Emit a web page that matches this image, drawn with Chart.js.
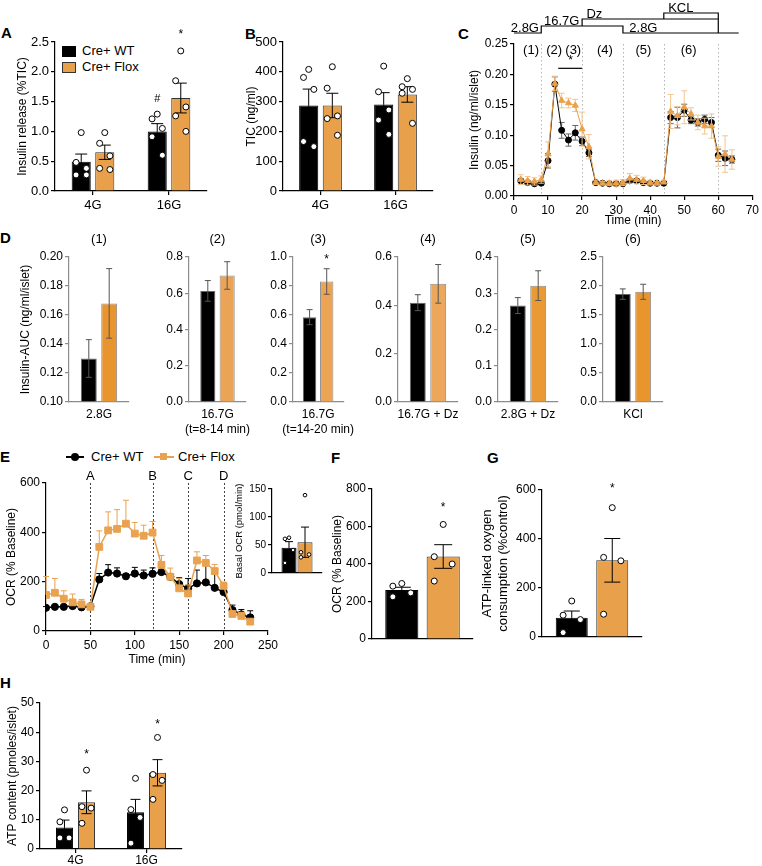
<!DOCTYPE html>
<html>
<head>
<meta charset="utf-8">
<title>Insulin secretion and OCR figure</title>
<script src="https://cdn.jsdelivr.net/npm/chart.js@4.4.1/dist/chart.umd.min.js"></script>
<style>
  body { margin: 0; background: #fff; }
  #fig { position: relative; width: 762px; height: 866px; overflow: hidden; background: #fff;
         font-family: "Liberation Sans", Arial, Helvetica, sans-serif; color: #000; }
  #fig canvas { position: absolute; }
  .txt { position: absolute; white-space: nowrap; font-size: 13px; line-height: 16px; }
  .letter { font-size: 15px; font-weight: bold; }
  .mid { transform: translateX(-50%); }
  .box { position: absolute; }
</style>
</head>
<body>
<div id="fig">
  <div class="txt letter" style="left:1px;top:25px">A</div>
  <div class="txt letter" style="left:245px;top:26px">B</div>
  <div class="txt letter" style="left:458px;top:26px">C</div>
  <div class="txt letter" style="left:0px;top:230px">D</div>
  <div class="txt letter" style="left:0px;top:449px">E</div>
  <div class="txt letter" style="left:331px;top:450px">F</div>
  <div class="txt letter" style="left:487px;top:450px">G</div>
  <div class="txt letter" style="left:0px;top:675px">H</div>

  <!-- legend of A -->
  <div class="box" style="left:62px;top:46px;width:14px;height:11px;background:#000"></div>
  <div class="box" style="left:62px;top:62px;width:12px;height:9px;background:#E9A04B;border:1px solid #333"></div>
  <div class="txt" style="left:82px;top:43px">Cre+ WT</div>
  <div class="txt" style="left:82px;top:59px">Cre+ Flox</div>

  <!-- legend of E -->
  <div class="box" style="left:66px;top:456px;width:18px;height:2px;background:#000"></div>
  <div class="box" style="left:71px;top:453px;width:8px;height:8px;border-radius:50%;background:#000"></div>
  <div class="txt" style="left:91px;top:449px">Cre+ WT</div>
  <div class="box" style="left:154px;top:456px;width:20px;height:2px;background:#E9A24F"></div>
  <div class="box" style="left:160px;top:453px;width:7px;height:7px;background:#E9A24F"></div>
  <div class="txt" style="left:178px;top:449px">Cre+ Flox</div>
</div>

<script>
// ---------------- data ----------------

// A: insulin release (%TIC)
const glucose = ['4G', '16G'];
const releaseWt = [0.49, 1.00];
const releaseWtSem = [0.13, 0.13];
const releaseFlox = [0.65, 1.56];
const releaseFloxSem = [0.12, 0.25];
const releaseWtDots = [[0.98, 0.48, 0.38, 0.27, 0.27], [1.29, 1.21, 1.05, 0.91, 0.60]];
const releaseFloxDots = [[0.98, 0.80, 0.59, 0.38, 0.36], [2.35, 1.85, 1.41, 1.26, 1.00]];

// B: total insulin content (ng/ml)
const ticWt = [287, 290];
const ticWtSem = [55, 40];
const ticFlox = [287, 324];
const ticFloxSem = [41, 26];
const ticWtDots = [[408, 381, 341, 166, 149], [419, 333, 272, 238, 190]];
const ticFloxDots = [[417, 345, 252, 243, 187], [377, 350, 341, 328, 227]];

// C: perifusion (ng/ml/islet)
const periTime = [2, 4, 6, 8, 10, 12, 14, 16, 18, 20, 22, 24, 26, 28, 30, 32,
                  34, 36, 38, 40, 42, 44, 46, 48, 50, 52, 54, 56, 58, 60, 62, 64];
const periWt = [0.025, 0.022, 0.020, 0.021, 0.058, 0.184, 0.108, 0.092, 0.104, 0.090, 0.071, 0.022, 0.021, 0.020, 0.020, 0.020,
                0.025, 0.025, 0.022, 0.021, 0.021, 0.021, 0.129, 0.129, 0.141, 0.125, 0.121, 0.126, 0.121, 0.067, 0.062, 0.060];
const periWtSem = [0.003, 0.003, 0.002, 0.002, 0.012, 0.012, 0.013, 0.010, 0.012, 0.007, 0.006, 0.002, 0.002, 0.002, 0.002, 0.002,
                   0.003, 0.003, 0.002, 0.002, 0.002, 0.002, 0.010, 0.017, 0.010, 0.006, 0.006, 0.007, 0.008, 0.010, 0.012, 0.006];
const periFlox = [0.027, 0.025, 0.024, 0.027, 0.069, 0.185, 0.157, 0.153, 0.149, 0.110, 0.081, 0.022, 0.021, 0.021, 0.021, 0.022,
                  0.029, 0.027, 0.025, 0.022, 0.021, 0.023, 0.139, 0.132, 0.146, 0.135, 0.121, 0.115, 0.115, 0.065, 0.069, 0.060];
const periFloxSem = [0.008, 0.007, 0.006, 0.006, 0.020, 0.012, 0.012, 0.008, 0.010, 0.028, 0.020, 0.003, 0.003, 0.004, 0.005, 0.005,
                     0.008, 0.007, 0.006, 0.004, 0.003, 0.003, 0.028, 0.015, 0.027, 0.010, 0.012, 0.013, 0.020, 0.016, 0.030, 0.016];
const periWindows = ['(1)', '(2)', '(3)', '(4)', '(5)', '(6)'];
const periBounds = [8, 20, 32, 44, 60];       // dotted lines (min)
const stimHighGlucose = [8, 32];              // 16.7G on/off
const stimDz = [20, 60];
const stimKcl = [44, 60];
const stimEnd = 66;

// D: AUC per window
const aucLabels = ['2.8G', ['16.7G', '(t=8-14 min)'], ['16.7G', '(t=14-20 min)'], '16.7G + Dz', '2.8G + Dz', 'KCl'];
const aucWt = [0.130, 0.613, 0.585, 0.411, 0.266, 1.86];
const aucWtSem = [0.013, 0.057, 0.052, 0.033, 0.022, 0.09];
const aucFlox = [0.168, 0.698, 0.831, 0.489, 0.321, 1.90];
const aucFloxSem = [0.024, 0.076, 0.088, 0.080, 0.041, 0.13];
const aucMin = [0.10, 0, 0, 0, 0, 0];
const aucMax = [0.20, 0.8, 1.0, 0.6, 0.4, 2.5];
const aucStep = [0.02, 0.2, 0.2, 0.2, 0.1, 0.5];
const aucDec = [2, 1, 1, 1, 1, 1];

// E: OCR (% baseline)
const ocrTime = [0, 10, 20, 30, 40, 50, 60, 70, 80, 90, 100, 110, 120, 130, 140, 150, 160, 170, 180, 190, 200, 210, 220, 230];
const ocrWt = [94, 98, 98, 101, 96, 100, 209, 237, 233, 222, 233, 225, 232, 239, 220, 190, 173, 193, 197, 175, 158, 85, 67, 55];
const ocrWtSem = [5, 5, 5, 5, 5, 5, 24, 32, 23, 10, 25, 22, 24, 22, 10, 26, 40, 54, 76, 59, 8, 20, 20, 27];
const ocrFlox = [146, 155, 131, 116, 108, 98, 341, 408, 414, 435, 395, 386, 399, 268, 220, 173, 152, 286, 276, 243, 183, 69, 61, 38];
const ocrFloxSem = [75, 58, 32, 34, 20, 5, 65, 75, 78, 95, 45, 43, 45, 38, 35, 40, 35, 35, 30, 27, 15, 10, 15, 10];
const injections = ['A', 'B', 'C', 'D'];
const injectionTime = [50, 120, 160, 200];

// E inset: basal OCR (pmol/min)
const basalWt = [45];
const basalWtSem = [11];
const basalFlox = [55];
const basalFloxSem = [27];
const basalWtDots = [[63, 61, 41, 18]];
const basalFloxDots = [[139, 37, 33, 28]];

// F: OCR (% baseline)
const ocrBarWt = [261];
const ocrBarWtSem = [15];
const ocrBarFlox = [440];
const ocrBarFloxSem = [63];
const ocrBarWtDots = [[296, 282, 246, 225]];
const ocrBarFloxDots = [[611, 439, 400, 309]];

// G: ATP-linked oxygen consumption (%control)
const atpO2Wt = [79];
const atpO2WtSem = [27];
const atpO2Flox = [313];
const atpO2FloxSem = [89];
const atpO2WtDots = [[147, 89, 71, 18]];
const atpO2FloxDots = [[528, 325, 311, 93]];

// H: ATP content (pmoles/islet)
const atpWt = [7.4, 12.6];
const atpWtSem = [2.5, 4.4];
const atpFlox = [16.0, 26.1];
const atpFloxSem = [3.9, 4.5];
const atpWtDots = [[13.4, 9.3, 3.8, 3.8], [24.2, 13.5, 10.8, 2.0]];
const atpFloxDots = [[27.0, 14.5, 14.0, 8.8], [38.2, 25.5, 23.5, 17.0]];

// ---------------- drawing ----------------

const FONT = '"Liberation Sans", Arial, Helvetica, sans-serif';
const ORANGE = '#E9A04B';
Chart.defaults.font.family = FONT;
Chart.defaults.font.size = 12;
Chart.defaults.color = '#000';
Chart.defaults.animation = false;
Chart.defaults.plugins.legend.display = false;
Chart.defaults.plugins.tooltip.enabled = false;

const fig = document.getElementById('fig');

// canvas placed so that the chart area lands on box l/t/r/b (page pixels)
function addCanvas(box) {
    const c = document.createElement('canvas');
    const left = box.l - box.yw, top = box.t - box.pt;
    c.width = box.r + box.pr - left;
    c.height = box.b + box.xh - top;
    c.style.left = left + 'px';
    c.style.top = top + 'px';
    fig.appendChild(c);
    return c;
}

function drawText(ctx, text, x, y, size, baseline) {
    ctx.save();
    ctx.fillStyle = '#000';
    ctx.font = size + 'px ' + FONT;
    ctx.textAlign = 'center';
    ctx.textBaseline = baseline || 'middle';
    ctx.fillText(text, x, y);
    ctx.restore();
}

function drawErrors(chart, di) {
    const ds = chart.data.datasets[di];
    if (!ds.errUp) return;
    const meta = chart.getDatasetMeta(di);
    const ys = chart.scales[meta.yAxisID];
    const ctx = chart.ctx;
    const h = ds.errCap || 4;
    ctx.save();
    ctx.strokeStyle = ds.errColor || '#000';
    ctx.lineWidth = ds.errWidth || 1;
    meta.data.forEach((el, i) => {
        const v = meta.controller.getParsed(i).y;
        const x = el.x, y0 = ys.getPixelForValue(v);
        ctx.beginPath();
        const yu = ys.getPixelForValue(v + ds.errUp[i]);
        ctx.moveTo(x, y0); ctx.lineTo(x, yu);
        ctx.moveTo(x - h, yu); ctx.lineTo(x + h, yu);
        if (ds.errDown) {
            const yd = ys.getPixelForValue(v - ds.errDown[i]);
            ctx.moveTo(x, y0); ctx.lineTo(x, yd);
            ctx.moveTo(x - h, yd); ctx.lineTo(x + h, yd);
        }
        ctx.stroke();
    });
    ctx.restore();
}

// error bars: under the line for line charts, over the bar for bar charts
Chart.register({
    id: 'errorBars',
    beforeDatasetDraw(chart, args) { if (chart.config.type === 'line') drawErrors(chart, args.index); },
    afterDatasetDraw(chart, args) { if (chart.config.type === 'bar') drawErrors(chart, args.index); }
});

// extra marks: dotted time lines, labels, stimulus diagram, significance marks
function overlay(spec) {
    return {
        id: 'overlay',
        beforeDatasetsDraw(chart) {
            const { ctx, chartArea: a, scales } = chart;
            (spec.vlines || []).forEach(v => {
                ctx.save();
                ctx.strokeStyle = v.color;
                ctx.lineWidth = v.width || 1;
                ctx.setLineDash(v.dash);
                v.xs.forEach(x => {
                    const px = Math.round(scales.x.getPixelForValue(x)) + 0.5;
                    ctx.beginPath(); ctx.moveTo(px, a.top); ctx.lineTo(px, a.bottom); ctx.stroke();
                });
                ctx.restore();
            });
        },
        afterDatasetsDraw(chart) {
            const { ctx, scales } = chart;
            ctx.save();
            ctx.strokeStyle = '#000';
            ctx.lineWidth = 1.2;
            (spec.paths || []).forEach(p => {
                ctx.beginPath();
                p.forEach(([x, y], i) => {
                    const px = scales.x.getPixelForValue(x);
                    if (i === 0) ctx.moveTo(px, y); else ctx.lineTo(px, y);
                });
                ctx.stroke();
            });
            (spec.segs || []).forEach(s => {
                const y = scales.y.getPixelForValue(s.y);
                ctx.beginPath();
                ctx.moveTo(scales.x.getPixelForValue(s.x1), y);
                ctx.lineTo(scales.x.getPixelForValue(s.x2), y);
                ctx.stroke();
            });
            ctx.restore();
            (spec.texts || []).forEach(t => {
                const y = t.yPx !== undefined ? t.yPx : scales.y.getPixelForValue(t.y);
                drawText(ctx, t.text, scales.x.getPixelForValue(t.x), y, t.size || 13, t.baseline);
            });
            (spec.notes || []).forEach(n => {
                const di = chart.data.datasets.findIndex(d => d.role === n.role);
                const el = chart.getDatasetMeta(di).data[n.i];
                drawText(ctx, n.text, el.x, scales.y.getPixelForValue(n.y), n.size || 13);
            });
        }
    };
}

function yAxis(box, o) {
    const col = o.color || '#000';
    return {
        min: o.min, max: o.max,
        ticks: { stepSize: o.step, padding: 2, font: { size: o.font || 12 }, callback: v => Number(v).toFixed(o.dec) },
        border: { color: col, width: 1.2 },
        grid: { drawOnChartArea: false, tickLength: 4, color: col, lineWidth: 1.2 },
        title: o.title ? { display: true, text: o.title, font: { size: o.tsize || 12, lineHeight: 1.2 } } : { display: false },
        afterFit: s => { s.width = box.yw; }
    };
}

function linAxis(box, o) {
    return {
        type: 'linear', min: o.min, max: o.max,
        ticks: { stepSize: o.step, padding: 3, font: { size: 12 }, maxRotation: 0 },
        border: { color: '#000', width: 1.2 },
        grid: { drawOnChartArea: false, tickLength: 4, color: '#000', lineWidth: 1.2 },
        title: { display: true, text: o.title, font: { size: 12 } },
        afterFit: s => { s.height = box.xh; }
    };
}

function catAxis(box, p) {
    const col = p.axisColor || '#000';
    return {
        type: 'category', offset: true,
        ticks: { display: p.xLabels !== false, padding: p.pad !== undefined ? p.pad : 2,
                 font: { size: p.xFont || 12, lineHeight: 1.25 }, maxRotation: 0, autoSkip: false },
        border: { color: col, width: 1.2 },
        grid: { offset: false, drawOnChartArea: false, drawTicks: p.xTicks !== false, tickLength: 4, color: col, lineWidth: 1.2 },
        afterFit: s => { s.height = box.xh; }
    };
}

// an axis that takes its box space but draws nothing
function blankAxis(o) {
    return Object.assign({
        ticks: { display: false }, grid: { display: false }, border: { display: false }, title: { display: false }
    }, o);
}

const jitter = [0, -0.9, 0.9, -0.9, 0.9];

// dot position on a linear axis that runs -0.5 .. n-0.5 like the category axis
function dotX(g, j, k, p) {
    const slot = p.cat / 2;
    const centre = g - p.cat / 2 + slot * (j + 0.5);
    return centre + jitter[k % jitter.length] * slot * p.bar * 0.3;
}

function barPanel(box, p) {
    const n = p.labels.length;
    const wt = { role: 'wt', data: p.wt, backgroundColor: '#000',
        borderColor: p.wtEdge || '#000', borderWidth: 1, categoryPercentage: p.cat, barPercentage: p.bar,
        errUp: p.wtSem, errDown: p.wtSem, errColor: p.errColor || '#000', errCap: p.cap };
    const flox = { role: 'flox', data: p.flox, backgroundColor: p.orange || ORANGE,
        borderColor: p.floxEdge || '#333', borderWidth: 1, categoryPercentage: p.cat, barPercentage: p.bar,
        errUp: p.floxSem, errDown: p.floxSem, errColor: p.errColor || '#000', errCap: p.cap };
    if (p.base !== undefined) { wt.base = p.base; flox.base = p.base; }
    const chart = new Chart(addCanvas(box), {
        type: 'bar',
        data: { labels: p.labels, datasets: [wt, flox] },
        options: {
            responsive: false,
            layout: { padding: { top: box.pt, right: box.pr, left: 0, bottom: 0 } },
            scales: { x: catAxis(box, p), y: yAxis(box, p.y) }
        },
        plugins: [overlay({ notes: p.notes || [] })]
    });

    // individual animals: a scatter chart laid exactly over the bar chart
    const dotSets = [];
    [p.wtDots, p.floxDots].forEach((dots, j) => {
        if (!dots) return;
        const pts = [];
        dots.forEach((grp, g) => grp.forEach((v, k) => pts.push({ x: dotX(g, j, k, p), y: v })));
        dotSets.push({ data: pts, pointRadius: p.dotR || 3, pointBorderWidth: 1,
            pointBackgroundColor: '#fff', pointBorderColor: '#000' });
    });
    if (dotSets.length) {
        new Chart(addCanvas(box), {
            type: 'scatter',
            data: { datasets: dotSets },
            options: {
                responsive: false,
                layout: { padding: { top: box.pt, right: box.pr, left: 0, bottom: 0 } },
                scales: {
                    x: blankAxis({ type: 'linear', min: -0.5, max: n - 0.5, afterFit: s => { s.height = box.xh; } }),
                    y: blankAxis({ type: 'linear', min: p.y.min, max: p.y.max, afterFit: s => { s.width = box.yw; } })
                }
            }
        });
    }
    return chart;
}

function lineSet(times, vals, sem, color, style, r, errColor, both, width) {
    return {
        data: times.map((t, i) => ({ x: t, y: vals[i] })),
        borderColor: color, backgroundColor: color, borderWidth: width || 1,
        pointStyle: style, pointRadius: r, pointBackgroundColor: color, pointBorderColor: color, pointBorderWidth: 1,
        errUp: sem, errDown: both ? sem : null, errColor, errCap: 3
    };
}

// ---- A
barPanel({ l: 55, t: 42, r: 207, b: 191, yw: 44, pt: 20, pr: 6, xh: 25 }, {
    labels: glucose, wt: releaseWt, wtSem: releaseWtSem, flox: releaseFlox, floxSem: releaseFloxSem,
    wtDots: releaseWtDots, floxDots: releaseFloxDots, cat: 0.62, bar: 0.81, cap: 6, xFont: 13, pad: 2,
    y: { min: 0, max: 2.5, step: 0.5, dec: 1, font: 13, title: 'Insulin release (%TIC)' },
    notes: [{ role: 'wt', i: 1, y: 1.55, text: '#', size: 11 }, { role: 'flox', i: 1, y: 2.63, text: '*', size: 12 }]
});

// ---- B
barPanel({ l: 283, t: 42, r: 433, b: 191, yw: 43, pt: 20, pr: 6, xh: 25 }, {
    labels: glucose, wt: ticWt, wtSem: ticWtSem, flox: ticFlox, floxSem: ticFloxSem,
    wtDots: ticWtDots, floxDots: ticFloxDots, cat: 0.63, bar: 0.81, cap: 6, xFont: 13, pad: 2,
    y: { min: 0, max: 500, step: 100, dec: 0, font: 13, title: 'TIC (ng/ml)' }
});

// ---- C
const cBox = { l: 514, t: 44, r: 753, b: 196, yw: 51, pt: 44, pr: 9, xh: 36 };
const lv = { low: 33, mid: 26, hi: 19, top: 13 };
const windowX = [5, 11.8, 17.4, 26.7, 38, 51.3];
new Chart(addCanvas(cBox), {
    type: 'line',
    data: { datasets: [
        lineSet(periTime, periFlox, periFloxSem, ORANGE, 'triangle', 3.5, '#F3C48F', true),
        lineSet(periTime, periWt, periWtSem, '#000', 'circle', 3, '#666', true)
    ] },
    options: {
        responsive: false,
        layout: { padding: { top: cBox.pt, right: cBox.pr, left: 0, bottom: 0 } },
        scales: {
            x: linAxis(cBox, { min: 0, max: 70, step: 10, title: 'Time (min)' }),
            y: yAxis(cBox, { min: 0, max: 0.25, step: 0.05, dec: 2, title: 'Insulin (ng/ml/islet)' })
        }
    },
    plugins: [overlay({
        vlines: [{ xs: periBounds, color: '#b5b5b5', dash: [1.5, 2.5] }],
        paths: [
            [[0, lv.low], [stimHighGlucose[0], lv.low], [stimHighGlucose[0], lv.mid], [stimHighGlucose[1], lv.mid],
             [stimHighGlucose[1], lv.low], [stimEnd, lv.low]],
            [[stimDz[0], lv.mid], [stimDz[0], lv.hi], [stimDz[1], lv.hi], [stimDz[1], lv.low]],
            [[stimKcl[0], lv.hi], [stimKcl[0], lv.top], [stimKcl[1], lv.top], [stimKcl[1], lv.hi]]
        ],
        segs: [{ x1: 13, x2: 20, y: 0.21 }],
        texts: [
            { x: 3.2, yPx: 32, text: '2.8G', baseline: 'alphabetic' },
            { x: 14, yPx: 25, text: '16.7G', baseline: 'alphabetic' },
            { x: 23.6, yPx: 18, text: 'Dz', baseline: 'alphabetic' },
            { x: 38, yPx: 32, text: '2.8G', baseline: 'alphabetic' },
            { x: 49, yPx: 12, text: 'KCL', baseline: 'alphabetic' },
            { x: 16.6, y: 0.222, text: '*', size: 12 }
        ].concat(periWindows.map((w, i) => ({ x: windowX[i], y: 0.239, text: w })))
    })]
});

// ---- D
const dAxisLeft = [69, 189, 293, 398, 498, 603];
const dOrange = ['#E8952F', '#EBA455', '#EBA455', '#ECA75B', '#EA9A35', '#E9952D'];
periWindows.forEach((w, k) => {
    const box = { l: dAxisLeft[k], t: 257, r: dAxisLeft[k] + 60, b: 402, yw: k === 0 ? 55 : 40, pt: 12, pr: 12, xh: 40 };
    const ch = barPanel(box, {
        labels: [aucLabels[k]], wt: [aucWt[k]], wtSem: [aucWtSem[k]], flox: [aucFlox[k]], floxSem: [aucFloxSem[k]],
        cat: 0.68, bar: 0.78, cap: 3, errColor: '#555', orange: dOrange[k], wtEdge: '#666', floxEdge: '#8c8c8c',
        base: aucMin[k], axisColor: '#8c8c8c', xTicks: false, pad: 5,
        y: { min: aucMin[k], max: aucMax[k], step: aucStep[k], dec: aucDec[k], color: '#8c8c8c',
             title: k === 0 ? 'Insulin-AUC (ng/ml/islet)' : null },
        notes: k === 2 ? [{ role: 'flox', i: 0, y: 0.98, text: '*', size: 12 }] : []
    });
    const d = document.createElement('div');
    d.className = 'txt mid';
    d.textContent = w;
    d.style.left = (box.l + (ch.chartArea.left + ch.chartArea.right) / 2 - box.yw) + 'px';
    d.style.top = '231px';
    fig.appendChild(d);
});

// ---- E
const eBox = { l: 46, t: 483, r: 269, b: 631, yw: 46, pt: 14, pr: 12, xh: 40 };
new Chart(addCanvas(eBox), {
    type: 'line',
    data: { datasets: [
        lineSet(ocrTime, ocrFlox, ocrFloxSem, '#E9A24F', 'rect', 4.8, '#E9A24F', false, 1.5),
        lineSet(ocrTime, ocrWt, ocrWtSem, '#000', 'circle', 3.6, '#000', false, 1.5)
    ] },
    options: {
        responsive: false,
        layout: { padding: { top: eBox.pt, right: eBox.pr, left: 0, bottom: 0 } },
        scales: {
            x: linAxis(eBox, { min: 0, max: 250, step: 50, title: 'Time (min)' }),
            y: yAxis(eBox, { min: 0, max: 600, step: 200, dec: 0, title: 'OCR (% Baseline)' })
        }
    },
    plugins: [overlay({
        vlines: [{ xs: injectionTime, color: '#444', dash: [2, 2] }],
        texts: injections.map((s, i) => ({ x: injectionTime[i], y: 625, text: s, size: 13 }))
    })]
});

// ---- E inset
barPanel({ l: 272, t: 489, r: 322, b: 573, yw: 42, pt: 10, pr: 6, xh: 10 }, {
    labels: [''], wt: basalWt, wtSem: basalWtSem, flox: basalFlox, floxSem: basalFloxSem,
    wtDots: basalWtDots, floxDots: basalFloxDots, cat: 0.64, bar: 0.94, cap: 4, dotR: 1.8,
    xLabels: false, xTicks: false,
    y: { min: 0, max: 150, step: 50, dec: 0, font: 10, tsize: 9.5, title: 'Basal OCR (pmol/min)' }
});

// ---- F
barPanel({ l: 372, t: 489, r: 473, b: 639, yw: 46, pt: 10, pr: 6, xh: 10 }, {
    labels: [''], wt: ocrBarWt, wtSem: ocrBarWtSem, flox: ocrBarFlox, floxSem: ocrBarFloxSem,
    wtDots: ocrBarWtDots, floxDots: ocrBarFloxDots, cat: 0.82, bar: 0.8, cap: 9,
    xLabels: false, xTicks: false,
    y: { min: 0, max: 800, step: 200, dec: 0, title: 'OCR (% Baseline)' },
    notes: [{ role: 'flox', i: 0, y: 700, text: '*', size: 12 }]
});

// ---- G
barPanel({ l: 542, t: 490, r: 642, b: 637, yw: 66, pt: 10, pr: 6, xh: 10 }, {
    labels: [''], wt: atpO2Wt, wtSem: atpO2WtSem, flox: atpO2Flox, floxSem: atpO2FloxSem,
    wtDots: atpO2WtDots, floxDots: atpO2FloxDots, cat: 0.81, bar: 0.79, cap: 8,
    xLabels: false, xTicks: false,
    y: { min: 0, max: 600, step: 200, dec: 0, tsize: 13, title: ['ATP-linked oxygen', 'consumption (%control)'] },
    notes: [{ role: 'flox', i: 0, y: 606, text: '*', size: 12 }]
});

// ---- H
barPanel({ l: 40, t: 703, r: 182, b: 849, yw: 39, pt: 10, pr: 6, xh: 17 }, {
    labels: glucose, wt: atpWt, wtSem: atpWtSem, flox: atpFlox, floxSem: atpFloxSem,
    wtDots: atpWtDots, floxDots: atpFloxDots, cat: 0.62, bar: 0.77, cap: 5, pad: 0,
    y: { min: 0, max: 50, step: 10, dec: 0, title: 'ATP content (pmoles/islet)' },
    notes: [{ role: 'flox', i: 0, y: 32.2, text: '*', size: 12 }, { role: 'flox', i: 1, y: 42.7, text: '*', size: 12 }]
});
</script>
</body>
</html>
